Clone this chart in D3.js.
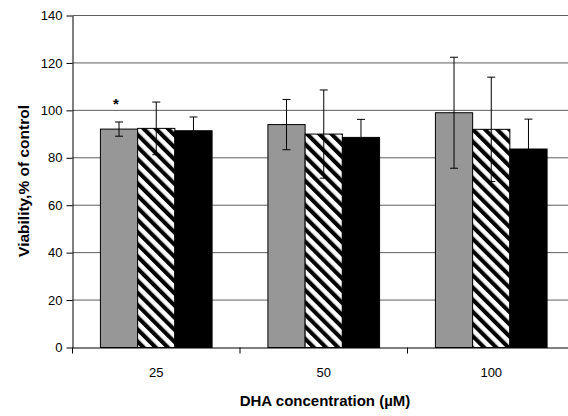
<!DOCTYPE html>
<html>
<head>
<meta charset="utf-8">
<script src="https://cdn.jsdelivr.net/npm/d3@7/dist/d3.min.js"></script>
<style>
  html, body { margin: 0; padding: 0; background: #fff; }
  svg { display: block; font-family: Arial, "Liberation Sans", sans-serif; }
</style>
</head>
<body>
<svg id="chart" width="568" height="416"></svg>
<script>
// DHA concentrations on the x axis
const categories = ["25", "50", "100"];
// three treatment series (grey, hatched, black)
const seriesKeys = ["grey", "hatched", "black"];
// mean viability, % of control
const greyMeans = [92.1, 94, 99];
const hatchedMeans = [92.4, 90, 92];
const blackMeans = [91.4, 88.6, 83.7];
// error bar half-lengths
const greyErrors = [3, 10.6, 23.4];
const hatchedErrors = [11.1, 18.6, 22];
const blackErrors = [5.8, 7.6, 12.6];
// significance markers above the grey bars
const greyMarks = ["*", "", ""];
// y axis ticks
const yTicks = [0, 20, 40, 60, 80, 100, 120, 140];

const svg = d3.select("#chart");
const plotLeft = 72.5, plotTop = 15.5, plotBottom = 347.5, plotRight = 575;

const y = d3.scaleLinear().domain([0, 140]).range([plotBottom, plotTop]);
const x = d3.scaleBand().domain(categories).range([plotLeft, plotRight]).paddingInner(0).paddingOuter(0);
const xs = d3.scaleBand().domain(seriesKeys).range([0, x.bandwidth()]).paddingInner(0).paddingOuter(0.75);

// stripes running down to the right
const defs = svg.append("defs");
const pat = defs.append("pattern")
  .attr("id", "hatch")
  .attr("patternUnits", "userSpaceOnUse")
  .attr("width", 8.6).attr("height", 8.6)
  .attr("patternTransform", "rotate(-45)");
pat.append("rect").attr("width", 8.6).attr("height", 8.6).attr("fill", "#fff");
pat.append("rect").attr("width", 4.1).attr("height", 8.6).attr("fill", "#000");

// horizontal gridlines
svg.append("g").selectAll("line")
  .data(yTicks.filter(d => d > 0))
  .join("line")
  .attr("x1", plotLeft).attr("x2", plotRight)
  .attr("y1", d => y(d)).attr("y2", d => y(d))
  .attr("stroke", "#5e5e5e").attr("stroke-width", 1);

const table = seriesKeys.map((k, i) => ({
  key: k,
  means: [greyMeans, hatchedMeans, blackMeans][i],
  errors: [greyErrors, hatchedErrors, blackErrors][i],
  fill: ["#979797", "url(#hatch)", "#000"][i]
}));

const rows = [];
table.forEach(s => categories.forEach((c, j) => rows.push({
  key: s.key, cat: c, v: s.means[j], e: s.errors[j], fill: s.fill
})));

// bars
svg.append("g").selectAll("rect")
  .data(rows)
  .join("rect")
  .attr("x", d => x(d.cat) + xs(d.key))
  .attr("y", d => y(d.v))
  .attr("width", xs.bandwidth())
  .attr("height", d => y(0) - y(d.v))
  .attr("fill", d => d.fill)
  .attr("stroke", "#000").attr("stroke-width", 1);

// error bars
const eb = svg.append("g").attr("stroke", "#000").attr("stroke-width", 1);
rows.forEach(d => {
  const cx = x(d.cat) + xs(d.key) + xs.bandwidth() / 2;
  eb.append("line").attr("x1", cx).attr("x2", cx).attr("y1", y(d.v + d.e)).attr("y2", y(d.v - d.e));
  [d.v + d.e, d.v - d.e].forEach(t =>
    eb.append("line").attr("x1", cx - 4).attr("x2", cx + 4).attr("y1", y(t)).attr("y2", y(t)));
});

// significance markers
svg.append("g").selectAll("text")
  .data(categories.map((c, j) => ({ cat: c, mark: greyMarks[j], peak: greyMeans[j] + greyErrors[j] })).filter(d => d.mark))
  .join("text")
  .attr("x", d => x(d.cat) + xs("grey") + xs.bandwidth() / 2 - 3)
  .attr("y", d => y(d.peak) - 13)
  .attr("text-anchor", "middle")
  .attr("font-size", 15).attr("font-weight", "bold")
  .text(d => d.mark);

// y axis
const yAxis = svg.append("g")
  .attr("transform", `translate(${plotLeft},0)`)
  .call(d3.axisLeft(y).tickValues(yTicks).tickSize(6).tickSizeOuter(0).tickPadding(4));
yAxis.select(".domain").attr("stroke", "#000");
yAxis.selectAll("line").attr("stroke", "#000");
yAxis.selectAll("text").attr("font-size", 13).attr("font-family", "Arial, 'Liberation Sans', sans-serif").attr("fill", "#000");

// x axis
const xAxis = svg.append("g")
  .attr("transform", `translate(0,${plotBottom})`)
  .call(d3.axisBottom(x).tickSize(0).tickSizeOuter(0).tickPadding(20));
xAxis.select(".domain").attr("stroke", "#000");
xAxis.selectAll("text").attr("font-size", 13).attr("font-family", "Arial, 'Liberation Sans', sans-serif").attr("fill", "#000");
xAxis.selectAll("line.bound")
  .data(categories.map(c => x(c)).concat([plotRight]))
  .join("line").attr("class", "bound")
  .attr("x1", d => d).attr("x2", d => d)
  .attr("y1", 0).attr("y2", 6)
  .attr("stroke", "#000");

// axis titles
svg.append("text")
  .attr("x", 325).attr("y", 406)
  .attr("text-anchor", "middle")
  .attr("font-size", 15).attr("font-weight", "bold")
  .text("DHA concentration (µM)");

svg.append("text")
  .attr("transform", "translate(29,181) rotate(-90)")
  .attr("text-anchor", "middle")
  .attr("font-size", 15.5).attr("font-weight", "bold")
  .text("Viability,% of control");
</script>
</body>
</html>
